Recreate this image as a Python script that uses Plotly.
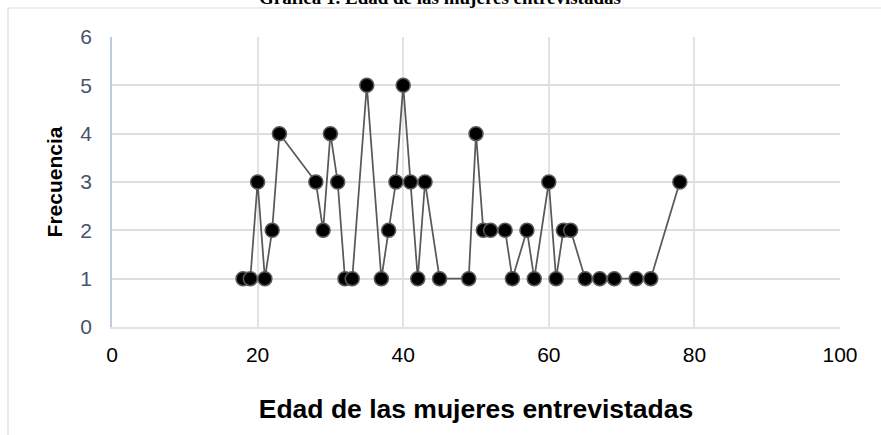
import plotly.graph_objects as go

# Edad (años) y frecuencia de mujeres entrevistadas con esa edad
edades = [18, 19, 20, 21, 22, 23, 28, 29, 30, 31, 32, 33, 35, 37, 38, 39, 40,
          41, 42, 43, 45, 49, 50, 51, 52, 54, 55, 57, 58, 60, 61, 62, 63, 65,
          67, 69, 72, 74, 78]
frecuencias = [1, 1, 3, 1, 2, 4, 3, 2, 4, 3, 1, 1, 5, 1, 2, 3, 5,
               3, 1, 3, 1, 1, 4, 2, 2, 2, 1, 2, 1, 3, 1, 2, 2, 1,
               1, 1, 1, 1, 3]

x_ticks = [0, 20, 40, 60, 80, 100]
y_ticks = [0, 1, 2, 3, 4, 5, 6]

titulo = "Gráfica 1. Edad de las mujeres entrevistadas"
titulo_x = "Edad de las mujeres entrevistadas"
titulo_y = "Frecuencia"

W, H = 881, 435
ML, MR, MT, MB = 112, 41, 37, 108
PW, PH = W - ML - MR, H - MT - MB


def px_to_paper_x(px):
    return (px - ML) / PW


def px_to_paper_y(py):
    return 1 + (MT - py) / PH


fig = go.Figure()
fig.add_trace(go.Scatter(
    x=edades, y=frecuencias, mode="lines+markers",
    line=dict(color="#595959", width=1.75),
    marker=dict(size=14, color="#000000", line=dict(color="#595959", width=1.5)),
    showlegend=False, cliponaxis=False,
))

fig.update_layout(
    width=W, height=H,
    margin=dict(l=ML, r=MR, t=MT, b=MB),
    paper_bgcolor="white", plot_bgcolor="white",
    font=dict(family="Liberation Sans, Arial, sans-serif", color="#000000"),
    xaxis=dict(
        range=[0, 100], tickvals=x_ticks, ticks="", showgrid=True,
        gridcolor="#dfe4ea", gridwidth=1.5, zeroline=False,
        showline=True, linecolor="#dfe4ea", linewidth=1.5, mirror=False,
        tickfont=dict(size=21, color="#000000"), ticklabelstandoff=8,
        title=dict(text="<b>" + titulo_x + "</b>", font=dict(size=26.5, color="#000000"),
                   standoff=34),
    ),
    yaxis=dict(
        range=[0, 6], tickvals=y_ticks, ticks="", showgrid=True,
        gridcolor="#dedede", gridwidth=1.5, zeroline=False,
        showline=True, linecolor="#bccbe0", linewidth=1.5,
        tickfont=dict(size=21, color="#44546a"), ticklabelstandoff=14,
        title=dict(text="<b>" + titulo_y + "</b>", font=dict(size=21, color="#000000"),
                   standoff=12),
    ),
    shapes=[dict(
        type="rect", xref="paper", yref="paper", layer="below",
        x0=px_to_paper_x(8), x1=px_to_paper_x(W + 20),
        y0=px_to_paper_y(H + 20), y1=px_to_paper_y(8),
        line=dict(color="#d9d9d9", width=1.2), fillcolor="rgba(0,0,0,0)",
    )],
    annotations=[dict(
        text="<b>" + titulo + "</b>", xref="paper", yref="paper",
        x=px_to_paper_x(440), y=px_to_paper_y(10), xanchor="center", yanchor="bottom",
        showarrow=False,
        font=dict(family="Liberation Serif, Times New Roman, serif", size=19, color="#000000"),
    )],
)

fig.write_html("out.html")
